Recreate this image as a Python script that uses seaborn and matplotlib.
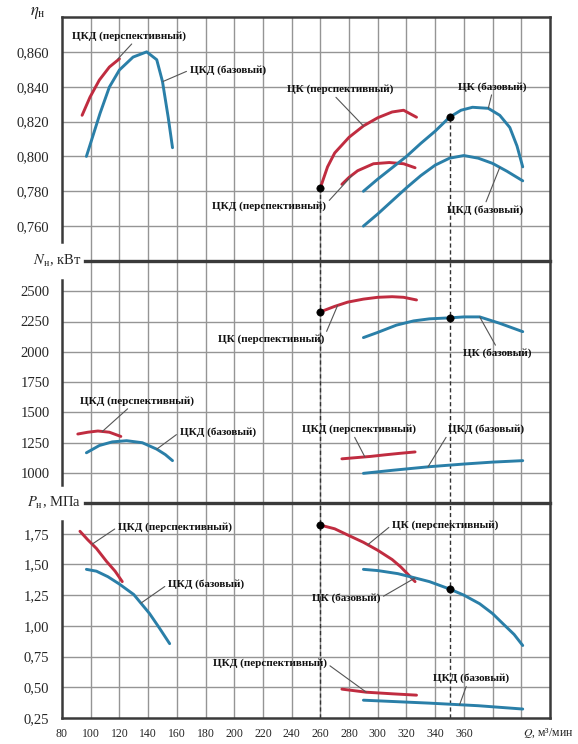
import matplotlib
matplotlib.use("Agg")
import matplotlib.pyplot as plt
import matplotlib.ticker as mticker
import seaborn as sns

RED = "#c02c40"
BLUE = "#2a7fa8"
GRID = "#959595"
SPINE = "#3a3a3a"

# ---------------- Efficiency, eta ----------------
q_eta_ckd_persp_a = [94, 99.5, 106, 113, 120]
eta_ckd_persp_a = [0.8236, 0.834, 0.8438, 0.8513, 0.856]
q_eta_ckd_base_a = [97, 106.5, 113, 120, 129.5, 139, 146, 150, 154, 157]
eta_ckd_base_a = [0.800, 0.8247, 0.8398, 0.8496, 0.857, 0.860, 0.8555, 0.843, 0.8224, 0.805]
q_eta_ck_persp = [260, 265, 270, 280, 290, 300, 310, 318, 327]
eta_ck_persp = [0.782, 0.794, 0.802, 0.811, 0.8175, 0.8222, 0.8255, 0.8265, 0.8225]
q_eta_ckd_persp_b = [275, 280, 286, 297, 308, 318, 326]
eta_ckd_persp_b = [0.784, 0.788, 0.7918, 0.7958, 0.7965, 0.7958, 0.7935]
q_eta_ck_base = [290, 300, 310, 320, 330, 340, 350, 358, 366, 377, 385, 392, 397, 401]
eta_ck_base = [0.780, 0.787, 0.7935, 0.800, 0.8075, 0.8145, 0.8225, 0.8265, 0.8282,
               0.8276, 0.8236, 0.8166, 0.806, 0.794]
q_eta_ckd_base_b = [290, 300, 310, 320, 330, 340, 350, 360, 370, 380, 390, 401]
eta_ckd_base_b = [0.760, 0.767, 0.7745, 0.782, 0.789, 0.795, 0.799, 0.8005, 0.799,
                  0.796, 0.7915, 0.786]

# ---------------- Power, N ----------------
q_n_ckd_persp_a = [91, 98, 105, 113, 121]
n_ckd_persp_a = [1320, 1335, 1345, 1335, 1300]
q_n_ckd_base_a = [97, 106, 115, 125, 136, 146, 152, 157]
n_ckd_base_a = [1165, 1225, 1255, 1265, 1248, 1195, 1150, 1100]
q_n_ck_persp = [260, 270, 279, 290, 300, 310, 318, 327]
n_ck_persp = [2330, 2375, 2410, 2435, 2450, 2455, 2450, 2428]
q_n_ck_base = [290, 300, 313, 325, 336, 350, 360, 371, 385, 401]
n_ck_base = [2117, 2160, 2220, 2255, 2272, 2280, 2288, 2288, 2235, 2166]
q_n_ckd_persp_b = [275, 285, 295, 305, 315, 326]
n_ckd_persp_b = [1115, 1125, 1135, 1148, 1160, 1172]
q_n_ckd_base_b = [290, 310, 336, 360, 380, 401]
n_ckd_base_b = [995, 1020, 1050, 1072, 1088, 1100]

# ---------------- Pressure, P ----------------
q_p_ckd_persp_a = [92.5, 98, 104, 111, 117, 122]
p_ckd_persp_a = [1.77, 1.70, 1.63, 1.525, 1.445, 1.36]
q_p_ckd_base_a = [97, 104, 112, 120, 130, 141, 148, 155]
p_ckd_base_a = [1.46, 1.445, 1.40, 1.34, 1.255, 1.10, 0.98, 0.855]
q_p_ck_persp = [260, 270, 279, 290, 300, 310, 316, 326]
p_ck_persp = [1.82, 1.79, 1.74, 1.68, 1.615, 1.54, 1.48, 1.36]
q_p_ck_base = [290, 300, 314, 326, 336, 350, 360, 371, 380, 387, 395, 401]
p_ck_base = [1.46, 1.45, 1.425, 1.39, 1.36, 1.30, 1.25, 1.18, 1.10, 1.02, 0.93, 0.84]
q_p_ckd_persp_b = [275, 292, 310, 327]
p_ckd_persp_b = [0.485, 0.46, 0.447, 0.436]
q_p_ckd_base_b = [290, 336, 370, 401]
p_ckd_base_b = [0.395, 0.371, 0.35, 0.323]

# design points (Q = 260 and Q = 350)
q_marks = [260, 350]

x_ticks = list(range(80, 421, 20))
x_labels = [str(v) if v <= 360 else "" for v in x_ticks]
eta_ticks = [0.76, 0.78, 0.80, 0.82, 0.84, 0.86]
n_ticks = [1000, 1250, 1500, 1750, 2000, 2250, 2500]
p_ticks = [0.25, 0.50, 0.75, 1.00, 1.25, 1.50, 1.75]

sns.set_theme(style="white")
plt.rcParams["font.family"] = ["Liberation Serif", "DejaVu Serif"]
plt.rcParams["mathtext.fontset"] = "stix"

fig = plt.figure(figsize=(5.78, 7.44), dpi=100)
L, W = 62 / 578, 488 / 578


def panel(top_px, bot_px):
    return fig.add_axes([L, 1 - bot_px / 744, W, (bot_px - top_px) / 744])


ax_eta = panel(17, 261)
ax_n = panel(261, 503)
ax_p = panel(503, 718)

ax_eta.set_ylim(0.74, 0.88)
ax_n.set_ylim(750, 2750)
ax_p.set_ylim(0.25, 2.0)

for ax, yt, fmt in [(ax_eta, eta_ticks, "{:.3f}"), (ax_n, n_ticks, "{:.0f}"), (ax_p, p_ticks, "{:.2f}")]:
    ax.set_xlim(80, 420)
    ax.set_facecolor("white")
    ax.set_xticks(x_ticks)
    ax.set_yticks(yt)
    ax.yaxis.set_major_formatter(mticker.FuncFormatter(lambda v, p, f=fmt: f.format(v).replace(".", ",")))
    ax.tick_params(axis="y", length=0, pad=9, labelsize=10.5)
    ax.tick_params(axis="x", length=0, pad=7, labelsize=8.5)
    ax.grid(False)
    for xv in x_ticks[1:-1]:
        ax.axvline(xv, color=GRID, lw=1.0, zorder=0)
    for yv in yt:
        if yv > ax.get_ylim()[0]:
            ax.axhline(yv, color=GRID, lw=1.0, zorder=0)
    for s in ax.spines.values():
        s.set_color(SPINE)
        s.set_linewidth(1.8)
    ax.set_xlabel("")
    ax.set_ylabel("")

ax_eta.set_xticklabels([])
ax_n.set_xticklabels([])
ax_p.set_xticklabels(x_labels)

ax_eta.spines["bottom"].set_visible(False)
ax_n.spines["bottom"].set_visible(False)
ax_eta.spines["left"].set_bounds(0.751, 0.88)
ax_n.spines["left"].set_bounds(900, 2590)
ax_p.spines["left"].set_bounds(0.25, 1.85)
ax_n.spines["top"].set_bounds(96, 420)
ax_p.spines["top"].set_bounds(96, 420)
ax_n.spines["top"].set_linewidth(2.4)
ax_p.spines["top"].set_linewidth(2.4)


def curve(ax, q, v, color):
    sns.lineplot(x=q, y=v, ax=ax, color=color, lw=2.1, sort=False, estimator=None, zorder=3)


curve(ax_eta, q_eta_ckd_persp_a, eta_ckd_persp_a, RED)
curve(ax_eta, q_eta_ckd_base_a, eta_ckd_base_a, BLUE)
curve(ax_eta, q_eta_ck_persp, eta_ck_persp, RED)
curve(ax_eta, q_eta_ckd_persp_b, eta_ckd_persp_b, RED)
curve(ax_eta, q_eta_ck_base, eta_ck_base, BLUE)
curve(ax_eta, q_eta_ckd_base_b, eta_ckd_base_b, BLUE)

curve(ax_n, q_n_ckd_persp_a, n_ckd_persp_a, RED)
curve(ax_n, q_n_ckd_base_a, n_ckd_base_a, BLUE)
curve(ax_n, q_n_ck_persp, n_ck_persp, RED)
curve(ax_n, q_n_ck_base, n_ck_base, BLUE)
curve(ax_n, q_n_ckd_persp_b, n_ckd_persp_b, RED)
curve(ax_n, q_n_ckd_base_b, n_ckd_base_b, BLUE)

curve(ax_p, q_p_ckd_persp_a, p_ckd_persp_a, RED)
curve(ax_p, q_p_ckd_base_a, p_ckd_base_a, BLUE)
curve(ax_p, q_p_ck_persp, p_ck_persp, RED)
curve(ax_p, q_p_ck_base, p_ck_base, BLUE)
curve(ax_p, q_p_ckd_persp_b, p_ckd_persp_b, RED)
curve(ax_p, q_p_ckd_base_b, p_ckd_base_b, BLUE)

# design points sit on the ЦК curves
eta_marks = [eta_ck_persp[q_eta_ck_persp.index(260)], eta_ck_base[q_eta_ck_base.index(350)]]
n_marks = [n_ck_persp[q_n_ck_persp.index(260)], n_ck_base[q_n_ck_base.index(350)]]
p_marks = [p_ck_persp[q_p_ck_persp.index(260)], p_ck_base[q_p_ck_base.index(350)]]

dash = dict(color="#333333", lw=1.0, ls=(0, (3, 2)), zorder=2)
for qm, em in zip(q_marks, eta_marks):
    ax_eta.vlines(qm, 0.74, em, **dash)
for ax in (ax_n, ax_p):
    for qm in q_marks:
        ax.axvline(qm, **dash)

for ax, vals in [(ax_eta, eta_marks), (ax_n, n_marks), (ax_p, p_marks)]:
    sns.scatterplot(x=q_marks, y=vals, ax=ax, color="black", s=28, zorder=5, edgecolor="black")


def label(ax, text, xy, xytext, relpos):
    ax.annotate(text, xy=xy, xytext=xytext, ha="left", va="center", fontsize=8,
                fontweight="bold", color="#111111", zorder=6,
                arrowprops=dict(arrowstyle="-", color="#555555", lw=0.8,
                                relpos=relpos, shrinkA=0, shrinkB=0))


T_CKD_P = "ЦКД (перспективный)"
T_CKD_B = "ЦКД (базовый)"
T_CK_P = "ЦК (перспективный)"
T_CK_B = "ЦК (базовый)"

label(ax_eta, T_CKD_P, (119, 0.856), (87, 0.8692), (0.55, 0))
label(ax_eta, T_CKD_B, (150.4, 0.843), (169, 0.8496), (0, 0.5))
label(ax_eta, T_CK_P, (290, 0.8175), (236.8, 0.8386), (0.43, 0))
label(ax_eta, T_CK_B, (377, 0.8276), (356, 0.840), (0.5, 0))
label(ax_eta, T_CKD_P, (282, 0.789), (184.5, 0.7716), (1, 0.7))
label(ax_eta, T_CKD_B, (385, 0.7937), (348, 0.7693), (0.5, 1))

label(ax_n, T_CKD_P, (108, 1340), (92.5, 1596), (0.45, 0))
label(ax_n, T_CKD_B, (146, 1195), (162, 1335), (0, 0.5))
label(ax_n, T_CK_P, (272, 2382), (188.7, 2101), (1, 0.8))
label(ax_n, T_CK_B, (371, 2288), (359.4, 1987), (0.5, 1))
label(ax_n, T_CKD_P, (291, 1131), (247, 1360), (0.45, 0))
label(ax_n, T_CKD_B, (335, 1049), (349, 1360), (0, 0))

label(ax_p, T_CKD_P, (101, 1.665), (119, 1.806), (0, 0.5))
label(ax_p, T_CKD_B, (135, 1.185), (153.9, 1.339), (0, 0.5))
label(ax_p, T_CK_P, (293, 1.66), (310, 1.823), (0, 0.5))
label(ax_p, T_CK_B, (326, 1.39), (254, 1.226), (1, 0.5))
label(ax_p, T_CKD_P, (292, 0.46), (185, 0.694), (1, 0.5))
label(ax_p, T_CKD_B, (357, 0.358), (338.6, 0.573), (0.45, 0))

# axis titles
fig.text(38 / 578, 1 - 13 / 744, r"$\eta_{\mathrm{н}}$", fontsize=12, ha="center", va="center")
fig.text(81 / 578, 1 - 261 / 744, r"$N_{\mathrm{н}}$, кВт", fontsize=10.5, ha="right", va="center")
fig.text(81 / 578, 1 - 503 / 744, r"$P_{\mathrm{н}}$, МПа", fontsize=10.5, ha="right", va="center")
fig.text(523 / 578, 1 - 733 / 744, r"$Q$, м³/мин", fontsize=8.5, ha="left", va="center")

fig.savefig("out.png", dpi=100, facecolor="white")
